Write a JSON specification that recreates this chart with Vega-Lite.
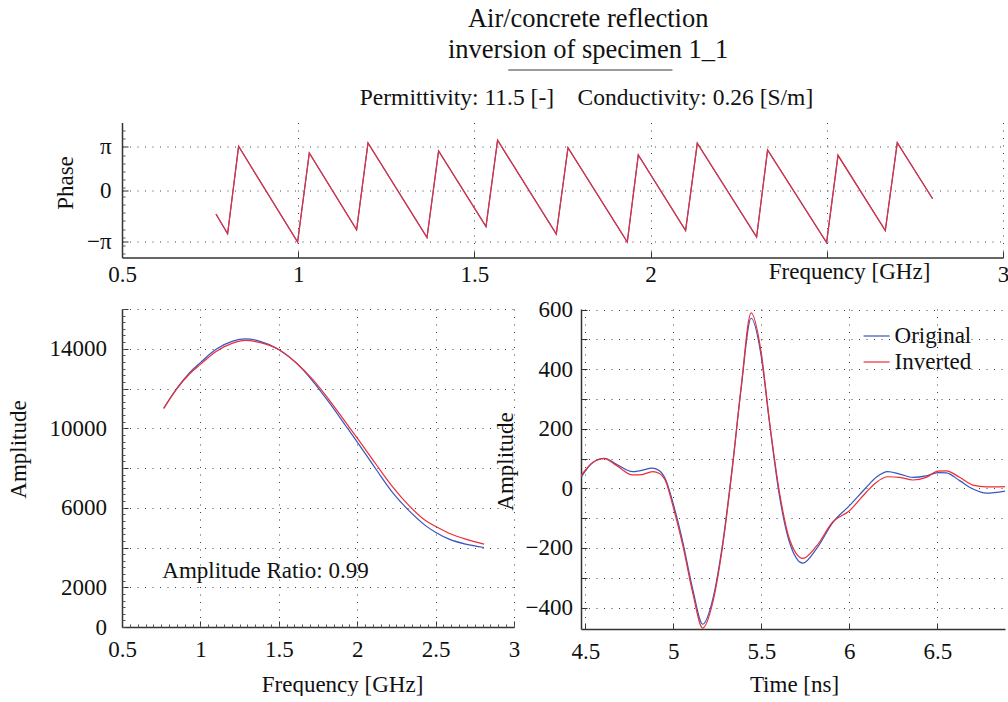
{
  "$schema": "https://vega.github.io/schema/vega-lite/v6.json",
  "padding": {"left": 7, "top": 5, "right": 0, "bottom": 0},
  "title": {
    "text": ["Air/concrete reflection", "inversion of specimen 1_1"],
    "anchor": "middle",
    "dx": 80,
    "offset": 5.5,
    "font": "Liberation Serif",
    "fontSize": 26.5,
    "fontWeight": "normal",
    "lineHeight": 31.5,
    "color": "#111111"
  },
  "datasets": {
    "phase": [
      {"f": 0.7667, "p": -1.753, "s": "Original"}, {"f": 0.7997, "p": -3.192, "s": "Original"}, {"f": 0.8309, "p": 3.185, "s": "Original"}, {"f": 0.9983, "p": -3.798, "s": "Original"}, {"f": 1.0315, "p": 2.703, "s": "Original"}, {"f": 1.1657, "p": -2.9, "s": "Original"}, {"f": 1.1981, "p": 3.433, "s": "Original"}, {"f": 1.3655, "p": -3.462, "s": "Original"}, {"f": 1.3984, "p": 2.849, "s": "Original"}, {"f": 1.5329, "p": -2.659, "s": "Original"}, {"f": 1.5658, "p": 3.623, "s": "Original"}, {"f": 1.7324, "p": -3.214, "s": "Original"}, {"f": 1.7656, "p": 3.09, "s": "Original"}, {"f": 1.9339, "p": -3.798, "s": "Original"}, {"f": 1.9651, "p": 2.557, "s": "Original"}, {"f": 2.0993, "p": -2.951, "s": "Original"}, {"f": 2.1325, "p": 3.404, "s": "Original"}, {"f": 2.3008, "p": -3.433, "s": "Original"}, {"f": 2.332, "p": 2.922, "s": "Original"}, {"f": 2.4994, "p": -3.828, "s": "Original"}, {"f": 2.5318, "p": 2.527, "s": "Original"}, {"f": 2.666, "p": -2.951, "s": "Original"}, {"f": 2.7, "p": 3.455, "s": "Original"}, {"f": 2.8002, "p": -0.636, "s": "Original"},
      {"f": 0.7667, "p": -1.753, "s": "Inverted"}, {"f": 0.7997, "p": -3.192, "s": "Inverted"}, {"f": 0.8309, "p": 3.185, "s": "Inverted"}, {"f": 0.9983, "p": -3.798, "s": "Inverted"}, {"f": 1.0315, "p": 2.703, "s": "Inverted"}, {"f": 1.1657, "p": -2.9, "s": "Inverted"}, {"f": 1.1981, "p": 3.433, "s": "Inverted"}, {"f": 1.3655, "p": -3.462, "s": "Inverted"}, {"f": 1.3984, "p": 2.849, "s": "Inverted"}, {"f": 1.5329, "p": -2.659, "s": "Inverted"}, {"f": 1.5658, "p": 3.623, "s": "Inverted"}, {"f": 1.7324, "p": -3.214, "s": "Inverted"}, {"f": 1.7656, "p": 3.09, "s": "Inverted"}, {"f": 1.9339, "p": -3.798, "s": "Inverted"}, {"f": 1.9651, "p": 2.557, "s": "Inverted"}, {"f": 2.0993, "p": -2.951, "s": "Inverted"}, {"f": 2.1325, "p": 3.404, "s": "Inverted"}, {"f": 2.3008, "p": -3.433, "s": "Inverted"}, {"f": 2.332, "p": 2.922, "s": "Inverted"}, {"f": 2.4994, "p": -3.828, "s": "Inverted"}, {"f": 2.5318, "p": 2.527, "s": "Inverted"}, {"f": 2.666, "p": -2.951, "s": "Inverted"}, {"f": 2.7, "p": 3.455, "s": "Inverted"}, {"f": 2.8002, "p": -0.636, "s": "Inverted"}
    ],
    "spectrum": [
      {"f": 0.766, "a": 11000, "s": "Original"}, {"f": 0.845, "a": 11960, "s": "Original"}, {"f": 0.93, "a": 12790, "s": "Original"}, {"f": 1.0, "a": 13300, "s": "Original"}, {"f": 1.1, "a": 13970, "s": "Original"}, {"f": 1.206, "a": 14385, "s": "Original"}, {"f": 1.287, "a": 14500, "s": "Original"}, {"f": 1.376, "a": 14385, "s": "Original"}, {"f": 1.499, "a": 13966, "s": "Original"}, {"f": 1.61, "a": 13300, "s": "Original"}, {"f": 1.716, "a": 12375, "s": "Original"}, {"f": 1.822, "a": 11286, "s": "Original"}, {"f": 1.928, "a": 10114, "s": "Original"}, {"f": 2.003, "a": 9277, "s": "Original"}, {"f": 2.12, "a": 7937, "s": "Original"}, {"f": 2.226, "a": 6764, "s": "Original"}, {"f": 2.332, "a": 5843, "s": "Original"}, {"f": 2.438, "a": 5089, "s": "Original"}, {"f": 2.502, "a": 4754, "s": "Original"}, {"f": 2.586, "a": 4419, "s": "Original"}, {"f": 2.692, "a": 4168, "s": "Original"}, {"f": 2.809, "a": 4000, "s": "Original"},
      {"f": 0.766, "a": 11000, "s": "Inverted"}, {"f": 0.845, "a": 11930, "s": "Inverted"}, {"f": 0.93, "a": 12730, "s": "Inverted"}, {"f": 1.0, "a": 13213, "s": "Inverted"}, {"f": 1.1, "a": 13866, "s": "Inverted"}, {"f": 1.206, "a": 14285, "s": "Inverted"}, {"f": 1.287, "a": 14419, "s": "Inverted"}, {"f": 1.376, "a": 14318, "s": "Inverted"}, {"f": 1.499, "a": 13966, "s": "Inverted"}, {"f": 1.61, "a": 13297, "s": "Inverted"}, {"f": 1.716, "a": 12459, "s": "Inverted"}, {"f": 1.822, "a": 11420, "s": "Inverted"}, {"f": 1.928, "a": 10281, "s": "Inverted"}, {"f": 2.003, "a": 9478, "s": "Inverted"}, {"f": 2.12, "a": 8188, "s": "Inverted"}, {"f": 2.226, "a": 7049, "s": "Inverted"}, {"f": 2.332, "a": 6094, "s": "Inverted"}, {"f": 2.438, "a": 5340, "s": "Inverted"}, {"f": 2.502, "a": 5055, "s": "Inverted"}, {"f": 2.586, "a": 4720, "s": "Inverted"}, {"f": 2.692, "a": 4419, "s": "Inverted"}, {"f": 2.809, "a": 4168, "s": "Inverted"}
    ],
    "time": [
      {"t": 4.475, "a": 37, "s": "Original"}, {"t": 4.542, "a": 87, "s": "Original"}, {"t": 4.608, "a": 101, "s": "Original"}, {"t": 4.674, "a": 82, "s": "Original"}, {"t": 4.769, "a": 56, "s": "Original"}, {"t": 4.807, "a": 59, "s": "Original"}, {"t": 4.883, "a": 68, "s": "Original"}, {"t": 4.921, "a": 59, "s": "Original"}, {"t": 4.959, "a": 26, "s": "Original"}, {"t": 4.997, "a": -47, "s": "Original"}, {"t": 5.054, "a": -181, "s": "Original"}, {"t": 5.11, "a": -338, "s": "Original"}, {"t": 5.167, "a": -456, "s": "Original"}, {"t": 5.224, "a": -372, "s": "Original"}, {"t": 5.281, "a": -181, "s": "Original"}, {"t": 5.338, "a": 87, "s": "Original"}, {"t": 5.385, "a": 334, "s": "Original"}, {"t": 5.442, "a": 571, "s": "Original"}, {"t": 5.499, "a": 445, "s": "Original"}, {"t": 5.546, "a": 222, "s": "Original"}, {"t": 5.603, "a": -25, "s": "Original"}, {"t": 5.66, "a": -181, "s": "Original"}, {"t": 5.736, "a": -251, "s": "Original"}, {"t": 5.812, "a": -204, "s": "Original"}, {"t": 5.907, "a": -114, "s": "Original"}, {"t": 6.001, "a": -58, "s": "Original"}, {"t": 6.096, "a": 3, "s": "Original"}, {"t": 6.153, "a": 37, "s": "Original"}, {"t": 6.219, "a": 56, "s": "Original"}, {"t": 6.286, "a": 48, "s": "Original"}, {"t": 6.362, "a": 37, "s": "Original"}, {"t": 6.437, "a": 42, "s": "Original"}, {"t": 6.504, "a": 53, "s": "Original"}, {"t": 6.551, "a": 52, "s": "Original"}, {"t": 6.627, "a": 26, "s": "Original"}, {"t": 6.703, "a": -2, "s": "Original"}, {"t": 6.779, "a": -16, "s": "Original"}, {"t": 6.887, "a": -9, "s": "Original"},
      {"t": 4.475, "a": 43, "s": "Inverted"}, {"t": 4.542, "a": 87, "s": "Inverted"}, {"t": 4.608, "a": 100, "s": "Inverted"}, {"t": 4.674, "a": 78, "s": "Inverted"}, {"t": 4.769, "a": 45, "s": "Inverted"}, {"t": 4.807, "a": 45, "s": "Inverted"}, {"t": 4.883, "a": 56, "s": "Inverted"}, {"t": 4.921, "a": 50, "s": "Inverted"}, {"t": 4.959, "a": 20, "s": "Inverted"}, {"t": 4.997, "a": -58, "s": "Inverted"}, {"t": 5.054, "a": -192, "s": "Inverted"}, {"t": 5.11, "a": -351, "s": "Inverted"}, {"t": 5.167, "a": -469, "s": "Inverted"}, {"t": 5.224, "a": -383, "s": "Inverted"}, {"t": 5.281, "a": -190, "s": "Inverted"}, {"t": 5.338, "a": 82, "s": "Inverted"}, {"t": 5.385, "a": 339, "s": "Inverted"}, {"t": 5.442, "a": 589, "s": "Inverted"}, {"t": 5.499, "a": 457, "s": "Inverted"}, {"t": 5.546, "a": 227, "s": "Inverted"}, {"t": 5.603, "a": -13, "s": "Inverted"}, {"t": 5.66, "a": -170, "s": "Inverted"}, {"t": 5.736, "a": -235, "s": "Inverted"}, {"t": 5.812, "a": -195, "s": "Inverted"}, {"t": 5.907, "a": -112, "s": "Inverted"}, {"t": 6.001, "a": -75, "s": "Inverted"}, {"t": 6.096, "a": -13, "s": "Inverted"}, {"t": 6.153, "a": 20, "s": "Inverted"}, {"t": 6.219, "a": 39, "s": "Inverted"}, {"t": 6.286, "a": 37, "s": "Inverted"}, {"t": 6.362, "a": 28, "s": "Inverted"}, {"t": 6.437, "a": 37, "s": "Inverted"}, {"t": 6.504, "a": 58, "s": "Inverted"}, {"t": 6.551, "a": 59, "s": "Inverted"}, {"t": 6.627, "a": 37, "s": "Inverted"}, {"t": 6.703, "a": 11, "s": "Inverted"}, {"t": 6.779, "a": 5, "s": "Inverted"}, {"t": 6.887, "a": 6, "s": "Inverted"}
    ]
  },
  "vconcat": [
    {
      "width": 881,
      "height": 1,
      "data": {"values": [{}]},
      "mark": {"type": "rule", "color": "#7a7a7a", "strokeWidth": 1.5},
      "encoding": {
        "x": {"datum": 1.596, "type": "quantitative", "scale": {"domain": [0.5, 3], "nice": false, "zero": false}, "axis": null},
        "x2": {"datum": 2.062},
        "y": {"value": 0}
      }
    },
    {
      "width": 881,
      "height": 135,
      "title": {
        "text": "Permittivity: 11.5 [-]\u00a0\u00a0\u00a0\u00a0Conductivity: 0.26 [S/m]",
        "anchor": "middle",
        "dx": 24,
        "offset": 13,
        "font": "Liberation Serif",
        "fontSize": 23.5,
        "fontWeight": "normal",
        "color": "#111111"
      },
      "data": {"name": "phase"},
      "layer": [
        {
          "mark": {"type": "line", "strokeWidth": 1.2, "clip": true},
          "encoding": {
            "x": {
              "field": "f", "type": "quantitative",
              "scale": {"domain": [0.5, 3], "nice": false, "zero": false},
              "axis": {
                "orient": "bottom",
                "values": [0.5, 1, 1.5, 2, 2.5, 3], "format": "~g",
                "labelExpr": "datum.value == 2.5 ? '' : datum.label",
                "labelPadding": 12,
                "title": "Frequency [GHz]", "titleX": 727, "titleY": 14, "titleAlign": "center", "titleBaseline": "middle"
              }
            },
            "y": {
              "field": "p", "type": "quantitative",
              "scale": {"domain": [-4.92, 4.92], "nice": false, "zero": false},
              "axis": {
                "orient": "left",
                "values": [3.1416, 0, -3.776],
                "labelExpr": "datum.value > 1 ? 'π' : (datum.value < -1 ? '−π' : '0')",
                "labelPadding": 17,
                "title": "Phase", "titleX": -57, "titleY": 60, "titleAngle": -90, "titleAlign": "center", "titleBaseline": "middle"
              }
            },
            "color": {"field": "s", "type": "nominal", "sort": ["Original", "Inverted"], "scale": {"domain": ["Original", "Inverted"], "range": ["#3555c0", "#ec2d35"]}, "legend": null}
          }
        },
        {
          "mark": {"type": "line", "opacity": 0},
          "encoding": {
            "x": {"field": "f", "type": "quantitative", "axis": null},
            "y": {
              "field": "p", "type": "quantitative",
              "axis": {
                "orient": "left",
                "values": [-4.65, -4.05, -3.45, -2.85, -2.25, -1.65, -1.05, -0.45, 0.15, 0.75, 1.35, 1.95, 2.55, 3.75, 4.35],
                "labels": false, "domain": false, "grid": false, "ticks": true, "tickSize": -3, "tickColor": "#555555", "title": null
              }
            }
          }
        }
      ],
      "resolve": {"axis": {"x": "independent", "y": "independent"}}
    },
    {
      "hconcat": [
        {
          "width": 392,
          "height": 318,
          "layer": [
            {
              "data": {"name": "spectrum"},
              "mark": {"type": "line", "strokeWidth": 1.2, "interpolate": "monotone"},
              "encoding": {
                "x": {
                  "field": "f", "type": "quantitative",
                  "scale": {"domain": [0.5, 3], "nice": false, "zero": false},
                  "axis": {
                    "orient": "bottom",
                    "values": [0.5, 1, 1.5, 2, 2.5, 3], "format": "~g",
                    "labelPadding": 17,
                    "title": "Frequency [GHz]", "titleX": 220, "titleY": 57, "titleAlign": "center", "titleBaseline": "middle"
                  }
                },
                "y": {
                  "field": "a", "type": "quantitative",
                  "scale": {"domain": [0, 16000], "nice": false},
                  "axis": {
                    "orient": "left",
                    "values": [0, 2000, 4000, 6000, 8000, 10000, 12000, 14000, 16000], "format": "d",
                    "labelExpr": "(datum.value == 4000 || datum.value == 8000 || datum.value == 12000 || datum.value == 16000) ? '' : datum.label",
                    "labelPadding": 21.5,
                    "title": "Amplitude", "titleX": -103.4, "titleY": 140, "titleAngle": -90, "titleAlign": "center", "titleBaseline": "middle"
                  }
                },
                "color": {"field": "s", "type": "nominal", "sort": ["Original", "Inverted"], "scale": {"domain": ["Original", "Inverted"], "range": ["#3555c0", "#ec2d35"]}, "legend": null}
              }
            },
            {
              "data": {"values": [{"label": "Amplitude Ratio: 0.99"}]},
              "mark": {"type": "text", "align": "left", "baseline": "middle", "font": "Liberation Serif", "fontSize": 23, "color": "#111111"},
              "encoding": {
                "x": {
                  "datum": 0.757, "type": "quantitative",
                  "axis": {
                    "orient": "bottom",
                    "values": [0.5, 0.55, 0.6, 0.65, 0.7, 0.75, 0.8, 0.85, 0.9, 0.95, 1, 1.05, 1.1, 1.15, 1.2, 1.25, 1.3, 1.35, 1.4, 1.45, 1.5, 1.55, 1.6, 1.65, 1.7, 1.75, 1.8, 1.85, 1.9, 1.95, 2, 2.05, 2.1, 2.15, 2.2, 2.25, 2.3, 2.35, 2.4, 2.45, 2.5, 2.55, 2.6, 2.65, 2.7, 2.75, 2.8, 2.85, 2.9, 2.95, 3],
                    "labels": false, "domain": false, "grid": false, "ticks": true, "tickSize": -3, "tickColor": "#555555", "title": null
                  }
                },
                "y": {
                  "datum": 2800, "type": "quantitative",
                  "axis": {
                    "orient": "left",
                    "values": [0, 333.3, 666.7, 1000, 1333.3, 1666.7, 2000, 2333.3, 2666.7, 3000, 3333.3, 3666.7, 4000, 4333.3, 4666.7, 5000, 5333.3, 5666.7, 6000, 6333.3, 6666.7, 7000, 7333.3, 7666.7, 8000, 8333.3, 8666.7, 9000, 9333.3, 9666.7, 10000, 10333.3, 10666.7, 11000, 11333.3, 11666.7, 12000, 12333.3, 12666.7, 13000, 13333.3, 13666.7, 14000, 14333.3, 14666.7, 15000, 15333.3, 15666.7, 16000],
                    "labels": false, "domain": false, "grid": false, "ticks": true, "tickSize": -3, "tickColor": "#555555", "title": null
                  }
                },
                "text": {"field": "label"}
              }
            }
          ],
          "resolve": {"axis": {"x": "independent", "y": "independent"}}
        },
        {
          "width": 424,
          "height": 320,
          "data": {"name": "time"},
          "mark": {"type": "line", "strokeWidth": 1.2, "interpolate": "monotone", "clip": true},
          "encoding": {
            "x": {
              "field": "t", "type": "quantitative",
              "scale": {"domain": [4.475, 6.885], "nice": false, "zero": false},
              "axis": {
                "values": [4.5, 5, 5.5, 6, 6.5], "format": "~g",
                "labelPadding": 17,
                "title": "Time [ns]", "titleX": 213, "titleY": 55, "titleAlign": "center", "titleBaseline": "middle"
              }
            },
            "y": {
              "field": "a", "type": "quantitative",
              "scale": {"domain": [-472, 602], "nice": false, "zero": false},
              "axis": {
                "values": [-400, -300, -200, -100, 0, 100, 200, 300, 400, 500, 600], "format": "d",
                "labelExpr": "datum.value % 200 == 0 ? datum.label : ''",
                "labelPadding": 14.5,
                "title": "Amplitude", "titleX": -75.7, "titleY": 152, "titleAngle": -90, "titleAlign": "center", "titleBaseline": "middle"
              }
            },
            "color": {
              "field": "s", "type": "nominal", "sort": ["Original", "Inverted"],
              "scale": {"domain": ["Original", "Inverted"], "range": ["#3555c0", "#ec2d35"]},
              "legend": {
                "title": null, "orient": "none", "legendX": 281.6, "legendY": 13,
                "symbolType": "stroke", "symbolSize": 676, "symbolStrokeWidth": 1.2,
                "labelFont": "Liberation Serif", "labelFontSize": 23, "labelColor": "#111111",
                "labelOffset": 4, "rowPadding": -1, "padding": 0
              }
            }
          }
        }
      ],
      "spacing": 67,
      "bounds": "flush",
      "resolve": {"scale": {"color": "independent"}, "legend": {"color": "independent"}}
    }
  ],
  "spacing": 51.5,
  "bounds": "flush",
  "resolve": {"scale": {"color": "independent", "x": "independent"}, "legend": {"color": "independent"}},
  "config": {
    "font": "Liberation Serif",
    "background": "white",
    "view": {"stroke": null},
    "axis": {
      "labelFont": "Liberation Serif",
      "labelFontSize": 23,
      "labelColor": "#111111",
      "labelFlush": false,
      "labelOverlap": false,
      "titleFont": "Liberation Serif",
      "titleFontSize": 23,
      "titleFontWeight": "normal",
      "titleColor": "#111111",
      "domainColor": "#333333",
      "domainWidth": 1.5,
      "tickColor": "#333333",
      "tickSize": -6,
      "tickWidth": 1,
      "grid": true,
      "gridColor": "#444444",
      "gridDash": [1, 6.5],
      "gridWidth": 1
    }
  }
}
